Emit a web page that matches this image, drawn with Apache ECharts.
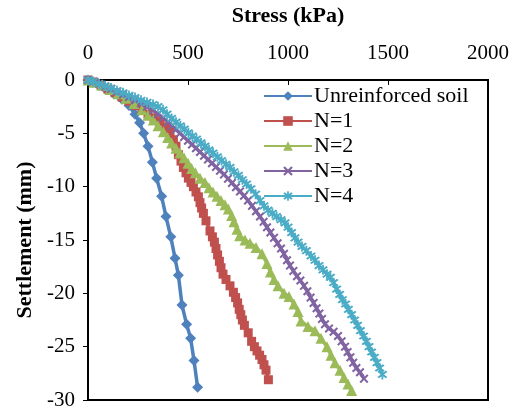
<!DOCTYPE html>
<html>
<head>
<meta charset="utf-8">
<script src="https://cdn.jsdelivr.net/npm/echarts@6/dist/echarts.min.js"></script>
<style>html,body{margin:0;padding:0;background:#fff}#c{width:519px;height:411px}</style>
</head>
<body>
<div id="c"></div>
<script>
var seriesNames = ['Unreinforced soil', 'N=1', 'N=2', 'N=3', 'N=4'];
var xTicks = [0, 500, 1000, 1500, 2000];
var yTicks = [0, -5, -10, -15, -20, -25, -30];

// [stress (kPa), settlement (mm)]
var unreinforced = [[0,0],[25,-0.2],[55,-0.5],[90,-0.9],[130,-1.3],[170,-1.8],[205,-2.4],[235,-3.2],[258,-4.0],[278,-5.0],[300,-6.2],[322,-7.7],[343,-9.2],[368,-10.9],[390,-12.8],[414,-14.7],[435,-16.7],[452,-18.3],[470,-21.1],[493,-22.9],[513,-24.2],[530,-26.3],[548,-28.8]];
var n1 = [[0,0],[30,-0.2],[65,-0.5],[100,-0.85],[135,-1.2],[170,-1.6],[205,-2.0],[240,-2.4],[270,-2.8],[300,-3.2],[330,-3.55],[360,-3.9],[390,-4.4],[410,-4.85],[427,-5.6],[440,-6.2],[452,-7.0],[465,-7.6],[477,-8.2],[490,-8.7],[502,-9.2],[515,-9.6],[527,-10.0],[540,-10.5],[552,-10.95],[560,-11.5],[568,-12.0],[577,-12.5],[590,-13.2],[610,-14.15],[622,-14.7],[632,-15.2],[640,-15.8],[648,-16.4],[657,-17.0],[665,-17.6],[675,-18.2],[690,-18.7],[710,-19.3],[727,-19.9],[738,-20.4],[748,-20.9],[756,-21.5],[764,-22.0],[772,-22.5],[782,-23.0],[801,-23.7],[818,-24.5],[832,-25.0],[845,-25.4],[858,-25.8],[870,-26.2],[880,-26.7],[890,-27.2],[902,-28.1]];
var n2 = [[0,0],[30,-0.2],[70,-0.5],[110,-0.9],[150,-1.3],[190,-1.7],[230,-2.2],[270,-2.8],[300,-3.3],[327,-3.75],[350,-4.3],[377,-4.85],[398,-5.4],[418,-5.9],[440,-6.4],[460,-6.85],[480,-7.3],[500,-7.8],[518,-8.3],[537,-8.7],[560,-9.2],[585,-9.6],[605,-10.1],[625,-10.5],[645,-10.9],[665,-11.3],[685,-11.7],[702,-12.1],[718,-12.7],[730,-13.3],[745,-14.0],[758,-14.6],[785,-15.0],[810,-15.3],[840,-15.7],[870,-16.3],[895,-17.2],[912,-18.0],[930,-18.7],[950,-19.3],[980,-20.0],[1005,-20.3],[1030,-21.0],[1050,-21.7],[1065,-22.6],[1100,-23.1],[1135,-23.5],[1165,-24.2],[1195,-25.0],[1215,-25.8],[1235,-26.5],[1260,-27.2],[1280,-27.9],[1300,-28.5],[1318,-29.1]];
var n3 = [[0,0],[25,-0.15],[55,-0.35],[85,-0.6],[115,-0.85],[145,-1.1],[175,-1.35],[205,-1.6],[235,-1.9],[265,-2.2],[295,-2.5],[325,-2.85],[350,-3.2],[375,-3.55],[400,-3.95],[420,-4.3],[440,-4.65],[460,-5.0],[480,-5.35],[500,-5.7],[520,-6.05],[540,-6.4],[560,-6.75],[580,-7.1],[600,-7.45],[620,-7.8],[640,-8.15],[660,-8.5],[680,-8.85],[700,-9.25],[720,-9.65],[740,-10.05],[760,-10.45],[780,-10.85],[800,-11.3],[820,-11.8],[840,-12.3],[860,-12.8],[878,-13.3],[895,-13.8],[912,-14.3],[930,-14.8],[948,-15.3],[965,-15.8],[980,-16.3],[995,-16.9],[1010,-17.4],[1027,-17.9],[1045,-18.4],[1062,-18.8],[1080,-19.3],[1097,-19.8],[1113,-20.4],[1128,-20.9],[1143,-21.4],[1157,-21.9],[1170,-22.4],[1185,-22.9],[1205,-23.3],[1228,-23.6],[1250,-24.0],[1268,-24.5],[1285,-25.0],[1298,-25.5],[1312,-26.0],[1326,-26.5],[1342,-27.0],[1360,-27.4],[1380,-28.0]];
var n4 = [[0,0],[25,-0.15],[55,-0.35],[85,-0.55],[115,-0.75],[145,-1.0],[175,-1.2],[205,-1.45],[235,-1.65],[265,-1.9],[295,-2.1],[325,-2.3],[350,-2.5],[375,-2.8],[395,-3.2],[418,-3.6],[440,-3.95],[462,-4.3],[482,-4.6],[502,-4.95],[522,-5.25],[543,-5.55],[565,-5.9],[585,-6.2],[605,-6.55],[625,-6.85],[647,-7.2],[668,-7.55],[690,-7.9],[710,-8.2],[730,-8.6],[752,-8.95],[772,-9.35],[793,-9.75],[815,-10.2],[838,-10.7],[860,-11.3],[880,-11.8],[900,-12.2],[922,-12.5],[943,-12.8],[965,-13.1],[985,-13.4],[1000,-13.8],[1018,-14.3],[1035,-14.8],[1050,-15.2],[1070,-15.6],[1092,-16.0],[1115,-16.5],[1135,-16.9],[1155,-17.4],[1175,-17.8],[1195,-18.2],[1212,-18.5],[1228,-19.0],[1243,-19.6],[1258,-20.1],[1272,-20.6],[1288,-21.0],[1302,-21.5],[1318,-22.0],[1333,-22.5],[1348,-23.0],[1362,-23.5],[1378,-24.0],[1392,-24.5],[1405,-25.0],[1418,-25.5],[1432,-26.0],[1445,-26.5],[1458,-27.0],[1472,-27.6]];

var colors = ['#4F81BD', '#C0504D', '#9BBB59', '#8064A2', '#4BACC6'];
var xSym = 'path://M1.6,0L5,3.4L8.4,0L10,1.6L6.6,5L10,8.4L8.4,10L5,6.6L1.6,10L0,8.4L3.4,5L0,1.6Z';
var starSym = 'path://M1.6,0L5,3.4L8.4,0L10,1.6L6.6,5L10,8.4L8.4,10L5,6.6L1.6,10L0,8.4L3.4,5L0,1.6ZM4.1,-1.5L5.9,-1.5L5.9,11.5L4.1,11.5Z';
var symbols = ['diamond', 'rect', 'triangle', xSym, starSym];
var symbolSizes = [11, 9, 11, 9, 10];
var datasets = [unreinforced, n1, n2, n3, n4];
var font = "'Liberation Serif','Times New Roman',serif";

var chart = echarts.init(document.getElementById('c'), null, {renderer: 'canvas'});
chart.setOption({
  animation: false,
  color: colors,
  textStyle: {fontFamily: font, color: '#000'},
  grid: {left: 88, top: 72, width: 400, height: 328, show: true, borderColor: '#000', borderWidth: 2, backgroundColor: '#fff'},
  legend: {
    orient: 'vertical', left: 258, top: 80,
    itemWidth: 48, itemHeight: 12, itemGap: 3,
    data: seriesNames,
    textStyle: {fontFamily: font, fontSize: 22, color: '#000', padding: [0,0,0,-3]}
  },
  xAxis: {
    type: 'value', position: 'top', min: xTicks[0], max: xTicks[xTicks.length-1], interval: 500,
    name: 'Stress (kPa)', nameLocation: 'middle', nameGap: 53,
    nameTextStyle: {fontFamily: font, fontSize: 22, fontWeight: 'bold', color: '#000'},
    axisLine: {show: true, lineStyle: {color: '#000', width: 1}},
    axisTick: {show: true, inside: true, length: 5, lineStyle: {color: '#000'}},
    axisLabel: {fontFamily: font, fontSize: 21, color: '#000', margin: 16, formatter: function (v) { return String(v); }},
    splitLine: {show: false}
  },
  yAxis: {
    type: 'value', min: yTicks[yTicks.length-1], max: yTicks[0], interval: 5,
    name: 'Settlement (mm)', nameLocation: 'middle', nameGap: 52, nameRotate: 90,
    nameTextStyle: {fontFamily: font, fontSize: 22, fontWeight: 'bold', color: '#000'},
    axisLine: {show: true, lineStyle: {color: '#000', width: 2}},
    axisTick: {show: true, inside: false, length: 5, lineStyle: {color: '#000'}},
    axisLabel: {fontFamily: font, fontSize: 21, color: '#000', margin: 13, formatter: function (v) { return String(v); }},
    splitLine: {show: false}
  },
  series: datasets.map(function (d, i) {
    return {
      name: seriesNames[i], type: 'line', data: d,
      symbol: symbols[i], symbolSize: symbolSizes[i], showSymbol: true,
      lineStyle: {width: 3.5, color: colors[i]},
      itemStyle: {color: colors[i]},
      clip: false
    };
  })
});
</script>
</body>
</html>
